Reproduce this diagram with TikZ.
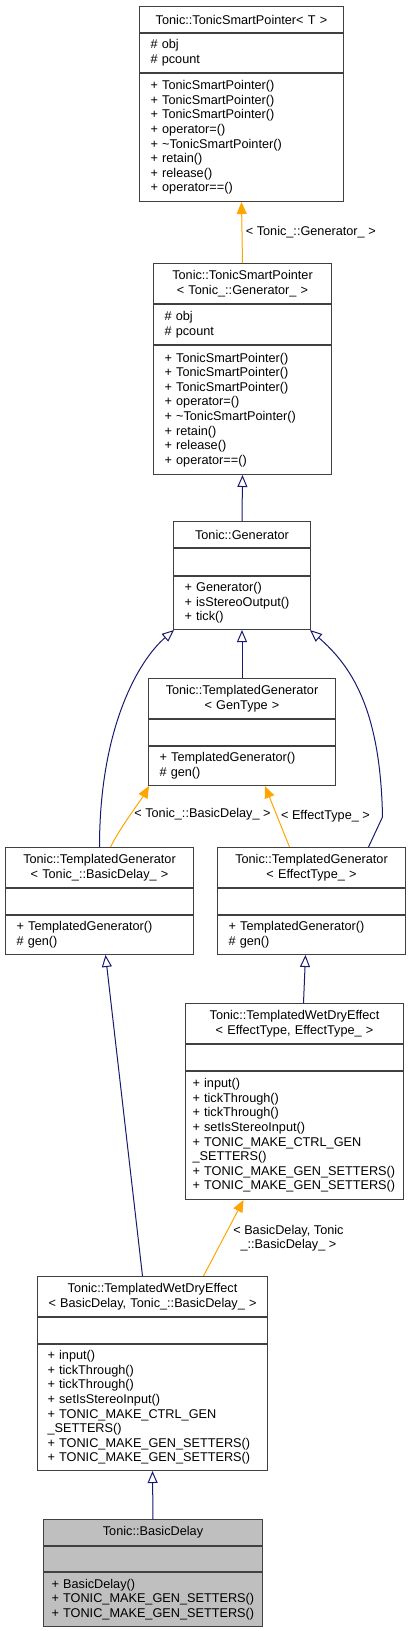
\documentclass[tikz,border=0pt]{standalone}
\usepackage{fontspec}
\setmainfont{Liberation Sans}
\usepackage{tikz}
\usetikzlibrary{arrows.meta, positioning}
\definecolor{dxnavy}{HTML}{191970}
\definecolor{dxorange}{HTML}{FFA500}
\definecolor{dxline}{HTML}{404040}
\definecolor{dxgray}{HTML}{BFBFBF}

\begin{document}
\begin{tikzpicture}[x=1pt, y=-1pt,
  cls/.style={rectangle, draw=dxline, line width=1pt, fill=white, inner xsep=11pt, inner ysep=0pt, font=\fontsize{12.7}{14.6}\selectfont},
  hdr/.style={cls, anchor=north west, align=center},
  mem/.style={cls, align=left},
  inh/.style={-{Triangle[open, length=12pt, width=10pt]}, draw=dxnavy, line width=1pt},
  tpl/.style={-{Triangle[length=12pt, width=10pt]}, draw=dxorange, line width=1pt},
  lbl/.style={text=black, font=\fontsize{12.7}{14.6}\selectfont},
]
\useasboundingbox (0,0) rectangle (411,1631);

% === Smart pointers ===
\node[hdr, text width=182pt, minimum height=26pt] (ptr) at (139,6) {Tonic::TonicSmartPointer< T >};
\node[mem, text width=182pt, minimum height=39pt, below=0pt of ptr] (ptr-at) {\# obj\\\# pcount};
\node[mem, text width=182pt, minimum height=128pt, below=0pt of ptr-at] (ptr-op) {+ TonicSmartPointer()\\+ TonicSmartPointer()\\+ TonicSmartPointer()\\+ operator=()\\+ \textasciitilde TonicSmartPointer()\\+ retain()\\+ release()\\+ operator==()};

\node[hdr, text width=156pt, minimum height=40pt] (gptr) at (153,263) {Tonic::TonicSmartPointer\\< Tonic\_::Generator\_ >};
\node[mem, text width=156pt, minimum height=40pt, below=0pt of gptr] (gptr-at) {\# obj\\\# pcount};
\node[mem, text width=156pt, minimum height=129pt, below=0pt of gptr-at] (gptr-op) {+ TonicSmartPointer()\\+ TonicSmartPointer()\\+ TonicSmartPointer()\\+ operator=()\\+ \textasciitilde TonicSmartPointer()\\+ retain()\\+ release()\\+ operator==()};

% === Generator ===
\node[hdr, text width=115pt, minimum height=26pt] (gen) at (173,521) {Tonic::Generator};
\node[mem, text width=115pt, minimum height=27pt, below=0pt of gen] (gen-at) {};
\node[mem, text width=115pt, minimum height=53pt, below=0pt of gen-at] (gen-op) {+ Generator()\\+ isStereoOutput()\\+ tick()};

% === Templated generators ===
\node[hdr, text width=165pt, minimum height=40pt] (tg) at (148,678) {Tonic::TemplatedGenerator\\< GenType >};
\node[mem, text width=165pt, minimum height=26pt, below=0pt of tg] (tg-at) {};
\node[mem, text width=165pt, minimum height=39pt, below=0pt of tg-at] (tg-op) {+ TemplatedGenerator()\\\# gen()};

\node[hdr, text width=166pt, minimum height=40pt] (tgbd) at (5,847) {Tonic::TemplatedGenerator\\< Tonic\_::BasicDelay\_ >};
\node[mem, text width=166pt, minimum height=26pt, below=0pt of tgbd] (tgbd-at) {};
\node[mem, text width=166pt, minimum height=39pt, below=0pt of tgbd-at] (tgbd-op) {+ TemplatedGenerator()\\\# gen()};

\node[hdr, text width=166pt, minimum height=40pt] (tgef) at (217,847) {Tonic::TemplatedGenerator\\< EffectType\_ >};
\node[mem, text width=166pt, minimum height=26pt, below=0pt of tgef] (tgef-at) {};
\node[mem, text width=166pt, minimum height=39pt, below=0pt of tgef-at] (tgef-op) {+ TemplatedGenerator()\\\# gen()};

% === Wet/dry effects ===
\node[hdr, inner xsep=7pt, text width=204pt, minimum height=40pt] (wde) at (185,1003) {Tonic::TemplatedWetDryEffect\\< EffectType, EffectType\_ >};
\node[mem, inner xsep=7pt, text width=204pt, minimum height=26pt, below=0pt of wde] (wde-at) {};
\node[mem, inner xsep=7pt, text width=204pt, minimum height=128pt, below=0pt of wde-at] (wde-op) {+ input()\\+ tickThrough()\\+ tickThrough()\\+ setIsStereoInput()\\+ TONIC\_MAKE\_CTRL\_GEN\\\_SETTERS()\\+~TONIC\_MAKE\_GEN\_SETTERS()\\+~TONIC\_MAKE\_GEN\_SETTERS()};

\node[hdr, inner xsep=10pt, text width=210pt, minimum height=40pt] (wdebd) at (37,1276) {Tonic::TemplatedWetDryEffect\\< BasicDelay, Tonic\_::BasicDelay\_ >};
\node[mem, inner xsep=10pt, text width=210pt, minimum height=26pt, below=0pt of wdebd] (wdebd-at) {};
\node[mem, inner xsep=10pt, text width=210pt, minimum height=126pt, below=0pt of wdebd-at] (wdebd-op) {+ input()\\+ tickThrough()\\+ tickThrough()\\+ setIsStereoInput()\\+ TONIC\_MAKE\_CTRL\_GEN\\\_SETTERS()\\+ TONIC\_MAKE\_GEN\_SETTERS()\\+ TONIC\_MAKE\_GEN\_SETTERS()};

% === BasicDelay ===
\node[hdr, fill=dxgray, inner xsep=8pt, text width=203pt, minimum height=26pt] (bd) at (43,1519) {Tonic::BasicDelay};
\node[mem, fill=dxgray, inner xsep=8pt, text width=203pt, minimum height=25pt, below=0pt of bd] (bd-at) {};
\node[mem, fill=dxgray, inner xsep=8pt, text width=203pt, minimum height=54pt, below=0pt of bd-at] (bd-op) {+ BasicDelay()\\+ TONIC\_MAKE\_GEN\_SETTERS()\\+ TONIC\_MAKE\_GEN\_SETTERS()};

% === Arrows ===
\draw[tpl] (gptr.north) -- node[lbl, midway, right] {< Tonic\_::Generator\_ >} (ptr-op.south);
\draw[inh] (gen.north) -- (gptr-op.south);
\draw[inh] (tg.north) -- (gen-op.south);

% generator children routed round the sides
\draw[inh] (tgbd.north) .. controls +(0,-120) and +(-35,30) .. ([xshift=1pt]gen-op.south west);
\draw[inh] ([xshift=57pt]tgef.north) -- ++(14,-30) .. controls +(-2,-110) and +(40,35) .. ([xshift=-1pt]gen-op.south east);

% template instances
\draw[tpl] ([xshift=11pt]tgbd.north) .. controls +(10,-20) and +(-8,14) .. ([xshift=1pt]tg-op.south west) node[lbl, pos=0.5, right] {< Tonic\_::BasicDelay\_ >};
\draw[tpl] ([xshift=-22pt]tgef.north) -- node[lbl, midway, right] {< EffectType\_ >} ([xshift=23pt]tg-op.south);

\draw[inh] ([xshift=9pt]wde.north) -- ([xshift=-6pt]tgef-op.south);
\draw[inh] ([xshift=-10pt]wdebd.north) -- ([xshift=6pt]tgbd-op.south);
\draw[tpl] ([xshift=51pt]wdebd.north) -- node[lbl, midway, right, xshift=6pt, align=center] {< BasicDelay, Tonic\\\_::BasicDelay\_ >} ([xshift=-51pt]wde-op.south);
\draw[inh] (bd.north) -- (wdebd-op.south);
\end{tikzpicture}
\end{document}
